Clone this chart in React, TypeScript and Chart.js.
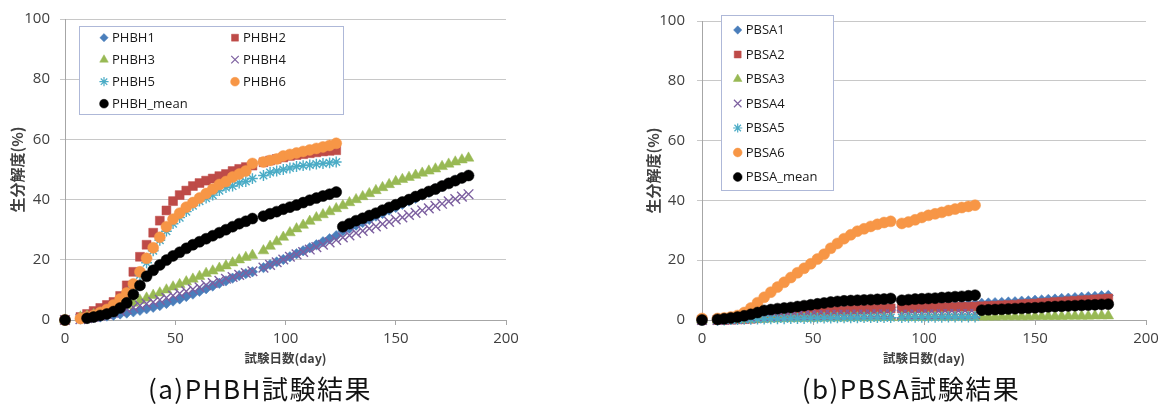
import React, { useEffect, useRef } from 'react';
import { Chart, registerables } from 'chart.js';
import { drawPoint } from 'chart.js/helpers';

Chart.register(...registerables);

// ---------- data ----------
const DAYS = [0, 7, 10, 13, 16, 19, 22, 25, 28, 31, 34, 37, 40, 43, 46, 49, 52, 55, 58, 61, 64, 67, 70, 73, 76, 79, 82, 85, 90, 93, 96, 99, 102, 105, 108, 111, 114, 117, 120, 123, 126, 129, 132, 135, 138, 141, 144, 147, 150, 153, 156, 159, 162, 165, 168, 171, 174, 177, 180, 183];

const PHBH1 = [0, 0.3, 0.5, 0.8, 1, 1.3, 1.6, 2, 2.3, 2.7, 3.2, 3.7, 4.2, 4.8, 5.5, 6.3, 7, 7.8, 8.6, 9.5, 10.4, 11.3, 12.2, 13, 13.9, 14.8, 15.4, 16, 17.4, 18.4, 19.3, 20.1, 21, 22, 23, 24, 25, 26, 27, 28, 29.6, 30.5, 31.5, 32.4, 33.4, 34.5, 35.4, 36.5, 37.4, 38.4, 39.5, 40.4, 41.5, 42.4, 43.5, 44.4, 45.4, 46.4, 47.2, 48];
const PHBH2 = [0, 1, 2, 3, 4, 5, 6, 8, 11.5, 16, 21, 25, 29, 33, 36.4, 39.5, 41.5, 43, 44.5, 45.5, 46.3, 47, 47.8, 48.5, 49.5, 50.2, 50.8, 51.3, 52.4, 53, 53.5, 54, 54.5, 54.8, 55.1, 55.4, 55.7, 56, 56.2, 56.4];
const PHBH3 = [0, 1, 1.3, 1.8, 2.3, 2.8, 3.4, 4, 4.8, 5.6, 6.5, 7.3, 8.2, 9, 10, 11, 11.8, 12.7, 13.6, 14.5, 15.5, 16.3, 17.2, 18, 19, 20, 20.8, 21.5, 23, 24.5, 26, 27.5, 29, 30.3, 31.5, 32.8, 34, 35, 36, 37, 38, 39, 40, 41, 42, 43, 44, 45, 46, 46.7, 47.4, 48.1, 48.8, 49.5, 50.2, 51, 51.8, 52.5, 53.2, 53.8];
const PHBH4 = [0, 0.3, 0.6, 1, 1.4, 1.9, 2.4, 3, 3.6, 4.2, 4.8, 5.4, 6, 6.7, 7.4, 8.1, 8.8, 9.5, 10.2, 10.9, 11.6, 12.3, 13, 13.7, 14.3, 15, 15.6, 16.2, 17.4, 18.3, 19.2, 20.1, 21, 21.8, 22.6, 23.4, 24.2, 25, 25.8, 26.6, 27.4, 28.1, 28.9, 29.6, 30.4, 31.1, 31.9, 32.6, 33.4, 34.1, 34.9, 35.6, 36.4, 37.1, 37.9, 38.6, 39.4, 40.2, 41, 41.8];
const PHBH5 = [0, 0.5, 1, 1.5, 2, 3, 4.5, 6, 8, 11, 15, 19, 23, 26.5, 29.5, 32, 34, 36, 38, 39.5, 40.5, 41.5, 43, 44, 44.5, 45.5, 46, 47, 48, 49, 49.5, 50, 50.5, 51, 51.3, 51.5, 51.8, 52, 52.2, 52.5];
const PHBH6 = [0, 0.5, 1, 1.5, 2.5, 3.5, 5, 7, 9, 12, 16, 20.5, 24, 27.5, 31, 33.5, 35.5, 37.5, 39, 40.5, 42, 43.5, 45, 46, 47.5, 48.5, 49.5, 52, 52.5, 53, 53.5, 54.5, 55, 55.5, 56, 56.5, 57, 57.5, 58, 58.7];
const PHBH_MEAN = [0, null, 0.6, 1, 1.5, 2, 2.8, 4, 5.7, 8.5, 11.5, 14.5, 16.5, 18.3, 19.9, 21.3, 22.5, 23.8, 25, 26, 27, 28, 29, 30, 31, 32, 32.8, 33.7, 34.5, 35.3, 36, 36.8, 37.5, 38.2, 39, 39.8, 40.5, 41.2, 41.8, 42.5, 31, 32, 33, 33.8, 34.7, 35.5, 36.5, 37.4, 38.3, 39.2, 40, 41, 41.8, 42.7, 43.5, 44.5, 45.4, 46.3, 47.2, 48];

const PBSA1 = [0, 0, 0.1, 0.2, 0.3, 0.4, 0.6, 0.8, 1, 1.2, 1.4, 1.6, 1.8, 2, 2.2, 2.4, 2.6, 2.8, 3, 3.2, 3.3, 3.5, 3.6, 3.8, 3.9, 4, 4.1, 4.2, 4.3, 4.4, 4.5, 4.6, 4.7, 4.8, 4.9, 5, 5.1, 5.2, 5.3, 5.4, 5.6, 5.7, 5.8, 5.9, 6, 6.1, 6.3, 6.4, 6.6, 6.7, 6.9, 7, 7.2, 7.3, 7.5, 7.6, 7.8, 7.9, 8.1, 8.2];
const PBSA2 = [0, 0, 0, 0.1, 0.2, 0.3, 0.4, 0.6, 0.8, 1, 1.2, 1.4, 1.6, 1.8, 2, 2.2, 2.4, 2.6, 2.8, 3, 3.1, 3.3, 3.4, 3.5, 3.6, 3.7, 3.8, 3.9, 3.9, 4, 4, 4.1, 4.1, 4.2, 4.2, 4.3, 4.3, 4.4, 4.4, 4.5, 4.6, 4.7, 4.8, 4.9, 5, 5.1, 5.3, 5.4, 5.5, 5.7, 5.8, 6, 6.1, 6.3, 6.4, 6.6, 6.7, 6.9, 7, 7.2];
const PBSA3 = [0, 0, 0, 0.1, 0.1, 0.2, 0.2, 0.3, 0.3, 0.4, 0.4, 0.5, 0.5, 0.5, 0.6, 0.6, 0.6, 0.7, 0.7, 0.7, 0.7, 0.8, 0.8, 0.8, 0.8, 0.8, 0.9, 0.9, 0.9, 0.9, 0.9, 0.9, 1, 1, 1, 1, 1, 1, 1, 1, 1, 1, 1, 1.1, 1.1, 1.1, 1.1, 1.1, 1.2, 1.2, 1.2, 1.2, 1.2, 1.3, 1.3, 1.3, 1.3, 1.4, 1.4, 1.4];
const PBSA4 = [0, 0, 0.1, 0.2, 0.3, 0.5, 0.7, 0.9, 1, 1.1, 1.2, 1.3, 1.4, 1.5, 1.5, 1.6, 1.6, 1.7, 1.7, 1.7, 1.8, 1.8, 1.8, 1.8, 1.9, 1.9, 1.9, 1.9, 1.8, 1.8, 1.9, 1.9, 1.9, 1.9, 2, 2, 2, 2, 2, 2];
const PBSA5 = [0, 0, 0, 0.1, 0.1, 0.2, 0.2, 0.3, 0.3, 0.4, 0.4, 0.4, 0.5, 0.5, 0.5, 0.6, 0.6, 0.6, 0.6, 0.7, 0.7, 0.7, 0.7, 0.8, 0.8, 0.8, 0.8, 0.8, 0.8, 0.9, 0.9, 0.9, 0.9, 0.9, 0.9, 1, 1, 1, 1, 1];
const PBSA6 = [0.5, 0.5, 0.7, 1, 1.5, 2.5, 4, 5.8, 7.6, 9.3, 11, 12.6, 14.2, 15.8, 17.3, 18.8, 20.4, 22, 24, 25.6, 27.2, 28.5, 29.7, 30.5, 31.3, 32, 32.6, 33, 32.3, 32.8, 33.5, 34.3, 35, 35.5, 36, 36.6, 37.1, 37.6, 38, 38.4];
const PBSA_MEAN = [0, 0.2, 0.4, 0.7, 1, 1.4, 1.9, 2.5, 3.2, 3.5, 3.8, 4, 4.2, 4.5, 4.8, 5.1, 5.4, 5.7, 6, 6.2, 6.4, 6.5, 6.6, 6.7, 6.8, 6.9, 7, 7.2, 6.6, 6.8, 7, 7.1, 7.2, 7.3, 7.5, 7.6, 7.8, 7.9, 8.1, 8.3, 3.3, 3.4, 3.5, 3.6, 3.7, 3.8, 3.9, 4, 4.1, 4.2, 4.4, 4.5, 4.6, 4.7, 4.8, 4.9, 5, 5.1, 5.2, 5.3];

const PHBH_NAMES = ['PHBH1', 'PHBH2', 'PHBH3', 'PHBH4', 'PHBH5', 'PHBH6', 'PHBH_mean'];
const PBSA_NAMES = ['PBSA1', 'PBSA2', 'PBSA3', 'PBSA4', 'PBSA5', 'PBSA6', 'PBSA_mean'];
const PHBH_SERIES = [PHBH1, PHBH2, PHBH3, PHBH4, PHBH5, PHBH6, PHBH_MEAN];
const PBSA_SERIES = [PBSA1, PBSA2, PBSA3, PBSA4, PBSA5, PBSA6, PBSA_MEAN];

const X_TICKS = [0, 50, 100, 150, 200];
const Y_TICKS = [0, 20, 40, 60, 80, 100];
const X_TITLE = '試験日数(day)';
const Y_TITLE = '生分解度(%)';
const CAPTION_A = '(a)PHBH試験結果';
const CAPTION_B = '(b)PBSA試験結果';

// ---------- styles ----------
const MARKERS = [
  { pointStyle: 'rectRot', color: '#4A7EBB', radius: 5.2, fill: true },
  { pointStyle: 'rect', color: '#BE4B48', radius: 6.3, fill: true },
  { pointStyle: 'triangle', color: '#98B954', radius: 6.2, fill: true },
  { pointStyle: 'crossRot', color: '#7D60A0', radius: 6.8, fill: false },
  { pointStyle: 'star', color: '#4BACC6', radius: 5.4, fill: false },
  { pointStyle: 'circle', color: '#F79646', radius: 5.5, fill: true },
  { pointStyle: 'circle', color: '#000000', radius: 5.5, fill: true },
];
const LEGEND_SCALE = [0.8, 0.78, 0.8, 0.78, 0.85, 0.8, 0.8];

const SANS = '"Open Sans", "Noto Sans", sans-serif';
const CJK = '"Noto Sans CJK JP", sans-serif';
const TEXT = '#404040';

function toPoints(vals: (number | null)[]) {
  const pts: { x: number; y: number }[] = [];
  vals.forEach((v, i) => {
    if (v !== null && v !== undefined) pts.push({ x: DAYS[i], y: v });
  });
  return pts;
}

type LegendLayout = {
  x: number; y: number; w: number; h: number;
  cols: number; colX: number[]; row0: number; rowH: number; textDx: number;
};

function makeLegendPlugin(lay: LegendLayout) {
  return {
    id: 'boxLegend',
    afterDraw(chart: any) {
      const ctx = chart.ctx as CanvasRenderingContext2D;
      ctx.save();
      ctx.fillStyle = '#ffffff';
      ctx.fillRect(lay.x, lay.y, lay.w, lay.h);
      ctx.strokeStyle = '#AEB8D8';
      ctx.lineWidth = 1;
      ctx.strokeRect(lay.x + 0.5, lay.y + 0.5, lay.w, lay.h);
      ctx.font = `13px ${SANS}`;
      ctx.textBaseline = 'middle';
      ctx.textAlign = 'left';
      chart.data.datasets.forEach((ds: any, i: number) => {
        const m = MARKERS[i];
        const col = i % lay.cols;
        const row = Math.floor(i / lay.cols);
        const mx = lay.colX[col];
        const my = lay.row0 + row * lay.rowH;
        ctx.fillStyle = m.fill ? m.color : 'rgba(0,0,0,0)';
        ctx.strokeStyle = m.color;
        ctx.lineWidth = m.fill ? 0.5 : 1.2;
        drawPoint(ctx, { pointStyle: m.pointStyle, radius: m.radius * LEGEND_SCALE[i], borderWidth: ctx.lineWidth, rotation: 0 } as any, mx, my);
        ctx.fillStyle = '#1a1a1a';
        ctx.fillText(ds.label, mx + lay.textDx, my + 0.5);
      });
      ctx.restore();
    },
  };
}

type PanelProps = {
  names: string[];
  series: (number | null)[][];
  left: number;
  width: number;
  height: number;
  pad: { left: number; right: number; top: number };
  yWidth: number;
  yTickPad: number;
  legend: LegendLayout;
};

function Panel(p: PanelProps) {
  const ref = useRef<HTMLCanvasElement | null>(null);
  useEffect(() => {
    if (!ref.current) return;
    const datasets = p.series.map((vals, i) => {
      const m = MARKERS[i];
      return {
        label: p.names[i],
        data: toPoints(vals),
        pointStyle: m.pointStyle,
        pointRadius: m.radius,
        pointHoverRadius: m.radius,
        pointBackgroundColor: m.fill ? m.color : 'rgba(0,0,0,0)',
        pointBorderColor: m.color,
        pointBorderWidth: m.fill ? 0.5 : 1.4,
        showLine: false,
        order: p.names.length - i,
        clip: false,
      };
    });
    const chart = new Chart(ref.current, {
      type: 'scatter',
      data: { datasets } as any,
      plugins: [makeLegendPlugin(p.legend)],
      options: {
        responsive: false,
        animation: false,
        devicePixelRatio: 1,
        layout: { padding: { left: p.pad.left, right: p.pad.right, top: p.pad.top, bottom: 0 } },
        plugins: { legend: { display: false }, tooltip: { enabled: false } },
        scales: {
          x: {
            type: 'linear',
            min: 0,
            max: 200,
            afterBuildTicks: (s: any) => { s.ticks = X_TICKS.map((v) => ({ value: v })); },
            afterFit: (s: any) => { s.height = 52; },
            grid: { drawOnChartArea: false, drawTicks: true, tickLength: 5, color: '#A6A6A6' },
            border: { display: true, color: '#A6A6A6' },
            ticks: { padding: 5, maxRotation: 0, color: TEXT, font: { family: SANS, size: 15 } },
            title: { display: true, text: X_TITLE, color: TEXT, font: { family: CJK, size: 12.5, weight: 'bold' }, padding: { top: 0, bottom: 6.5 } },
          },
          y: {
            type: 'linear',
            min: 0,
            max: 100,
            afterBuildTicks: (s: any) => { s.ticks = Y_TICKS.map((v) => ({ value: v })); },
            afterFit: (s: any) => { s.width = p.yWidth; },
            grid: { color: '#C8C8C8', tickLength: 5 },
            border: { display: true, color: '#A6A6A6' },
            ticks: { padding: p.yTickPad, color: TEXT, font: { family: SANS, size: 15 } },
            title: { display: true, text: Y_TITLE, color: TEXT, font: { family: CJK, size: 15, weight: 'bold' }, padding: { top: 8.5, bottom: 0 } },
          },
        },
      } as any,
    });
    return () => chart.destroy();
  }, []);
  return (
    <canvas
      ref={ref}
      width={p.width}
      height={p.height}
      style={{ position: 'absolute', left: p.left, top: 0, width: p.width, height: p.height }}
    />
  );
}

const captionStyle = (cx: number): React.CSSProperties => ({
  position: 'absolute',
  left: cx - 200,
  width: 400,
  top: 375,
  textAlign: 'center',
  fontFamily: CJK,
  fontSize: 26,
  lineHeight: '26px',
  letterSpacing: '1.5px',
  color: '#111',
  whiteSpace: 'nowrap',
});

export default function App() {
  return (
    <div style={{ position: 'fixed', left: 0, top: 0, width: 1167, height: 410, background: '#fff', overflow: 'hidden' }}>
      <Panel
        names={PHBH_NAMES}
        series={PHBH_SERIES}
        left={0}
        width={580}
        height={372}
        pad={{ left: 0, right: 74, top: 18.5 }}
        yWidth={65}
        yTickPad={10}
        legend={{ x: 79, y: 26, w: 264, h: 88, cols: 2, colX: [104, 235], row0: 37.7, rowH: 22, textDx: 8 }}
      />
      <Panel
        names={PBSA_NAMES}
        series={PBSA_SERIES}
        left={580}
        width={587}
        height={372}
        pad={{ left: 56, right: 21, top: 15.5 }}
        yWidth={66}
        yTickPad={12}
        legend={{ x: 141, y: 15, w: 112, h: 175, cols: 1, colX: [157.7], row0: 30, rowH: 24.5, textDx: 8 }}
      />
      <div style={captionStyle(260)}>{CAPTION_A}</div>
      <div style={captionStyle(911)}>{CAPTION_B}</div>
    </div>
  );
}
